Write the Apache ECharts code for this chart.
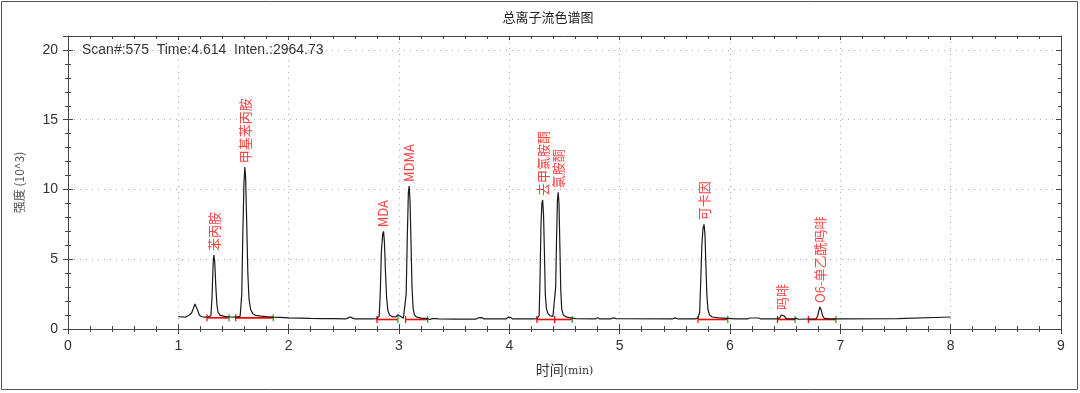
<!DOCTYPE html>
<html><head><meta charset="utf-8">
<script src="https://cdn.jsdelivr.net/npm/echarts@6/dist/echarts.min.js"></script>
<style>html,body{margin:0;padding:0;background:#fff}#c{width:1080px;height:393px}</style>
</head><body><div id="c"></div>
<script>
const titleText = '总离子流色谱图';
const xAxisName = '时间';
const xAxisUnit = '(min)';
const yAxisName = '强度 (10^3)';
const scanInfo = 'Scan#:575  Time:4.614  Inten.:2964.73';
const xMin = 0, xMax = 9, xStep = 1;
const yMin = 0, yMax = 21, yStep = 5, yMinorStep = 1;

// chromatogram trace [time(min), intensity(10^3)]
const chromatogram = [
[1.00,0.90],[1.02,0.86],[1.04,0.88],[1.06,0.84],[1.08,0.92],[1.10,1.00],[1.12,1.15],[1.135,1.45],[1.15,1.80],[1.16,1.75],[1.175,1.35],[1.19,1.00],[1.21,0.88],[1.24,0.85],[1.27,0.86],[1.295,0.95],
[1.305,2.2],[1.315,4.6],[1.322,5.3],[1.33,4.8],[1.34,3.0],[1.35,1.7],[1.36,1.2],[1.38,0.98],[1.42,0.90],[1.47,0.86],[1.52,0.85],[1.56,0.9],
[1.575,2.5],[1.585,7.0],[1.595,10.5],[1.603,11.6],[1.61,10.8],[1.62,7.5],[1.63,4.0],[1.64,2.2],[1.655,1.4],[1.675,1.1],[1.70,0.98],[1.75,0.92],[1.80,0.88],[1.86,0.85],[1.92,0.84],[2.00,0.80],[2.10,0.78],[2.20,0.76],[2.30,0.75],[2.40,0.74],[2.52,0.73],[2.54,0.80],[2.56,0.86],[2.58,0.78],[2.60,0.72],[2.75,0.72],[2.80,0.74],[2.82,0.9],
[2.83,2.5],[2.84,5.5],[2.852,6.8],[2.86,7.0],[2.868,6.2],[2.878,4.0],[2.888,2.2],[2.90,1.3],[2.915,1.0],[2.94,0.88],[2.97,0.86],[2.99,1.02],[3.00,1.10],[3.015,0.9],[3.04,0.78],[3.055,0.85],
[3.065,2.5],[3.075,6.5],[3.085,9.8],[3.092,10.25],[3.10,9.2],[3.108,6.5],[3.118,3.0],[3.128,1.5],[3.14,1.0],[3.16,0.85],[3.20,0.78],[3.26,0.74],[3.28,0.68],[3.30,0.74],[3.31,0.66],[3.33,0.74],[3.36,0.72],[3.50,0.71],[3.70,0.71],[3.72,0.80],[3.75,0.82],[3.77,0.72],[3.97,0.72],[3.99,0.85],[4.01,0.84],[4.03,0.72],[4.22,0.72],[4.25,0.74],[4.27,0.95],
[4.278,3.5],[4.287,7.5],[4.295,9.0],[4.302,9.25],[4.31,8.2],[4.318,5.5],[4.326,2.5],[4.335,1.5],[4.35,1.1],[4.37,0.95],[4.395,0.9],[4.41,1.0],
[4.42,3.0],[4.428,6.5],[4.436,9.2],[4.443,9.8],[4.45,9.0],[4.458,6.0],[4.466,2.8],[4.475,1.4],[4.49,1.0],[4.52,0.85],[4.57,0.78],[4.60,0.74],[4.78,0.72],[4.80,0.80],[4.82,0.72],[4.92,0.72],[4.94,0.80],[4.97,0.74],[5.48,0.72],[5.50,0.80],[5.53,0.72],[5.68,0.72],[5.71,0.78],[5.725,1.2],
[5.735,3.5],[5.745,6.0],[5.755,7.2],[5.765,7.5],[5.773,6.8],[5.782,4.5],[5.79,2.5],[5.80,1.4],[5.815,1.0],[5.84,0.86],[5.90,0.80],[5.98,0.76],[6.05,0.72],[6.16,0.72],[6.18,0.79],[6.26,0.79],[6.28,0.72],
[6.42,0.72],[6.45,0.80],[6.465,1.0],[6.475,1.07],[6.49,0.95],[6.505,0.78],[6.53,0.72],[6.58,0.72],[6.60,0.76],[6.62,0.70],[6.78,0.72],[6.795,0.95],[6.805,1.3],[6.815,1.58],[6.825,1.4],[6.84,0.95],[6.855,0.76],[6.90,0.72],[7.00,0.72],[7.52,0.74],[7.53,0.86],[8.00,0.86]
];

const peakNames   = ['苯丙胺','甲基苯丙胺','MDA','MDMA','去甲氯胺酮','氯胺酮','可卡因','吗啡','O6-单乙酰吗啡'];
const peakTimes   = [1.322, 1.603, 2.86, 3.092, 4.302, 4.443, 5.765, 6.475, 6.815];
const peakHeights = [5.3, 11.6, 7.0, 10.25, 9.25, 9.8, 7.5, 1.07, 1.58];
const integStart  = [1.26, 1.52, 2.80, 3.06, 4.25, 4.41, 5.71, 6.43, 6.71];
const integEnd    = [1.46, 1.86, 2.99, 3.26, 4.41, 4.57, 5.98, 6.59, 6.96];
const integBase   = [0.80, 0.80, 0.68, 0.68, 0.68, 0.68, 0.68, 0.68, 0.68];

const FONT = "'Liberation Sans', Arial, sans-serif";
const CJK = "'Noto Sans CJK SC', 'Liberation Sans', sans-serif";
const AX = '#444';

const baseX = {type:'value', min:xMin, max:xMax, interval:xStep, gridIndex:0};
const baseY = {type:'value', min:yMin, max:yMax, gridIndex:0};
const off = {axisLine:{show:false}, axisLabel:{show:false}, splitLine:{show:false}};

const chart = echarts.init(document.getElementById('c'), null, {renderer:'canvas'});
chart.setOption({
  animation:false,
  backgroundColor:'#fff',
  grid:{left:68, top:36, right:19, bottom:64},
  graphic:[
    {type:'rect', shape:{x:1.5, y:1.5, width:1076, height:388}, style:{fill:null, stroke:'#555', lineWidth:1}, silent:true},
    {type:'text', x:548, y:17, style:{text:titleText, fontSize:13, fontFamily:CJK, fill:'#222', align:'center', verticalAlign:'middle', textAlign:'center', textVerticalAlign:'middle'}},
    {type:'text', x:82, y:50, style:{text:scanInfo, fontSize:14, fontFamily:FONT, fill:'#333', align:'left', verticalAlign:'middle', textAlign:'left', textVerticalAlign:'middle'}}
  ],
  xAxis:[
    Object.assign({}, baseX, {position:'bottom',
      axisLine:{show:true, onZero:false, lineStyle:{color:AX, width:1}},
      axisTick:{show:true, inside:false, length:5, lineStyle:{color:AX}},
      minorTick:{show:true, splitNumber:5, length:3, lineStyle:{color:AX}},
      axisLabel:{color:'#333', fontSize:14, fontFamily:FONT, margin:10},
      splitLine:{show:true, lineStyle:{color:'#aaa', type:[1,5], width:1}},
      name:'{a|'+xAxisName+'}{b|'+xAxisUnit+'}', nameLocation:'middle', nameGap:34,
      nameTextStyle:{rich:{a:{fontSize:14, fontFamily:CJK, color:'#333'}, b:{fontSize:11, fontFamily:"'DejaVu Serif', serif", color:'#333', padding:[2,0,0,0]}}}
    }),
    Object.assign({}, baseX, off, {position:'bottom',
      axisTick:{show:true, inside:true, length:5, lineStyle:{color:AX}},
      minorTick:{show:true, splitNumber:5, length:3, lineStyle:{color:AX}}}),
    Object.assign({}, baseX, {position:'top',
      axisLine:{show:true, onZero:false, lineStyle:{color:AX}},
      axisTick:{show:true, inside:true, length:4, lineStyle:{color:AX}},
      minorTick:{show:true, splitNumber:5, length:3, lineStyle:{color:AX}},
      axisLabel:{show:false}, splitLine:{show:false}})
  ],
  yAxis:[
    Object.assign({}, baseY, {interval:yStep, position:'left',
      axisLine:{show:true, onZero:false, lineStyle:{color:AX}},
      axisTick:{show:true, inside:false, length:5, lineStyle:{color:AX}},
      axisLabel:{color:'#333', fontSize:14, fontFamily:FONT, margin:10, formatter:function(v){return v % yStep === 0 ? String(v) : '';}},
      splitLine:{show:true, lineStyle:{color:'#aaa', type:[1,5], width:1}},
      name:yAxisName, nameLocation:'middle', nameGap:43,
      nameTextStyle:{fontSize:12, fontFamily:CJK, color:'#555'}}),
    Object.assign({}, baseY, off, {interval:yStep, position:'left',
      axisTick:{show:true, inside:true, length:5, lineStyle:{color:AX}}}),
    Object.assign({}, baseY, off, {interval:yMinorStep, position:'left',
      axisTick:{show:true, inside:false, length:3, lineStyle:{color:AX}}}),
    Object.assign({}, baseY, off, {interval:yMinorStep, position:'left',
      axisTick:{show:true, inside:true, length:3, lineStyle:{color:AX}}}),
    Object.assign({}, baseY, {interval:yStep, position:'right',
      axisLine:{show:true, onZero:false, lineStyle:{color:AX}},
      axisTick:{show:true, inside:true, length:5, lineStyle:{color:AX}},
      axisLabel:{show:false}, splitLine:{show:false}}),
    Object.assign({}, baseY, off, {interval:yMinorStep, position:'right',
      axisTick:{show:true, inside:true, length:3, lineStyle:{color:AX}}})
  ],
  series:[
    {
      type:'custom', xAxisIndex:0, yAxisIndex:0, z:2, silent:true,
      data: integStart.map(function(s,i){return [s, integEnd[i], integBase[i]];}),
      encode:{x:[0,1], y:2},
      renderItem:function(params, api){
        const s = api.coord([api.value(0), api.value(2)]);
        const e = api.coord([api.value(1), api.value(2)]);
        return {type:'group', children:[
          {type:'line', shape:{x1:s[0], y1:s[1], x2:e[0], y2:e[1]}, style:{stroke:'#ff0000', lineWidth:1.6}},
          {type:'line', shape:{x1:e[0], y1:e[1]-3.5, x2:e[0], y2:e[1]+3.5}, style:{stroke:'#1e9e1e', lineWidth:1.2}},
          {type:'line', shape:{x1:s[0], y1:s[1]-3.5, x2:s[0], y2:s[1]+3.5}, style:{stroke:'#ff0000', lineWidth:1.2}}
        ]};
      }
    },
    {
      type:'line', xAxisIndex:0, yAxisIndex:0, z:3, silent:true,
      data: chromatogram, showSymbol:false, symbol:'none', sampling:null,
      lineStyle:{color:'#1a1a1a', width:1.2}
    },
    {
      type:'scatter', xAxisIndex:0, yAxisIndex:0, z:4, silent:true,
      symbolSize:0,
      data: peakTimes.map(function(t,i){return {value:[t, peakHeights[i]], name:peakNames[i]};}),
      label:{show:true, formatter:'{b}', position:'top', distance:4, rotate:90, align:'left', verticalAlign:'middle',
        color:'#ff1010', fontSize:13, fontFamily:CJK}
    }
  ]
});
</script>
</body></html>
